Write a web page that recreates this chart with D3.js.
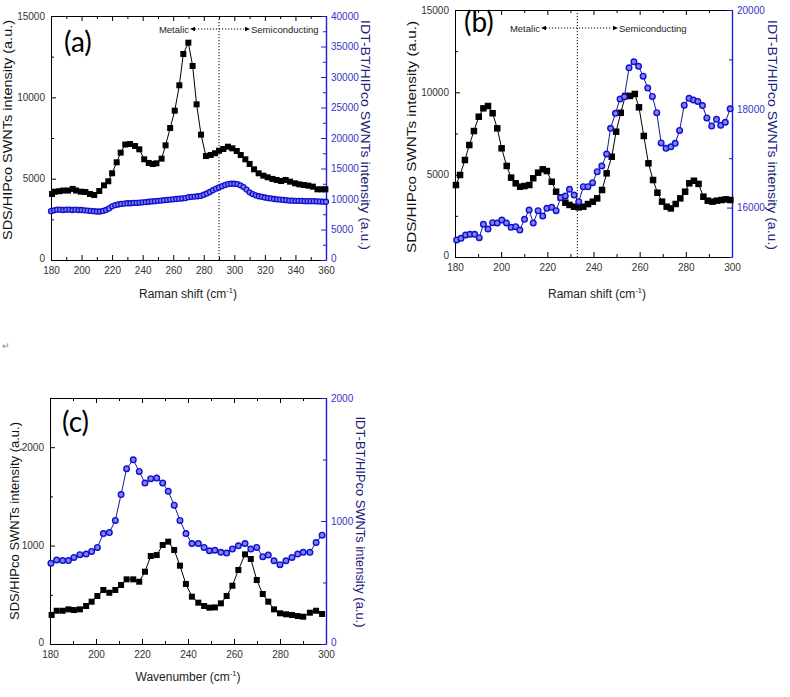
<!DOCTYPE html>
<html><head><meta charset="utf-8">
<script src="https://cdn.jsdelivr.net/npm/d3@7"></script>
<style>
body{margin:0;background:#fff;}
svg{display:block;font-family:"Liberation Sans",Arial,sans-serif;}
</style>
</head><body>
<svg id="chart" width="790" height="697"></svg>
<script>
// ---------- Panel (a) data ----------
const aBlackX = [180.7,182.7,185.5,188.1,191.2,194.2,196.4,199.5,202.5,205.5,208.3,211.6,214.7,217.5,220.0,223.0,225.6,228.6,231.7,235.0,237.8,241.0,244.0,246.6,249.0,252.4,255.0,258.0,261.0,264.0,266.6,269.9,272.7,275.3,278.2,281.4,284.5,287.3,290.0,292.8,295.8,298.7,301.6,304.2,307.2,310.0,312.9,315.9,319.0,321.8,324.9,327.7,330.6,333.6,336.5,339.8,342.6,345.6,348.5,351.4,354.4,357.2,359.6];
const aBlackY = [4060,4200,4230,4270,4270,4370,4270,4200,4180,4060,3996,4240,4590,4840,5330,6006,6600,7100,7130,7010,6805,6190,5965,5900,5945,6230,7050,8115,9180,10740,12665,13360,11930,9570,7705,6390,6455,6560,6720,6825,6965,6865,6700,6455,6190,5905,5575,5330,5185,5085,4985,4920,4855,4920,4815,4715,4650,4610,4570,4510,4345,4345,4345];
const aBlueX = [180,182,184,186,188,190,192,194,196,198,200,202,204,206,208,210,212,214,216,218,220,222,224,226,228,230,232,234,236,238,240,242,244,246,248,250,252,254,256,258,260,262,264,266,268,270,272,274,276,278,280,282,284,286,288,290,292,294,296,298,300,302,304,306,308,310,312,314,316,318,320,322,324,326,328,330,332,334,336,338,340,342,344,346,348,350,352,354,356,358,360];
const aBlueY = [8000,8150,8250,8250,8200,8250,8250,8200,8250,8200,8200,8150,8100,8050,8000,7950,7950,8050,8200,8450,8800,9000,9100,9200,9250,9300,9300,9350,9350,9400,9450,9500,9550,9600,9650,9700,9750,9800,9850,9900,9950,10000,10050,10100,10150,10300,10350,10400,10450,10500,10700,10900,11150,11450,11700,11900,12100,12300,12450,12500,12500,12450,12250,11950,11550,11100,10800,10600,10450,10350,10250,10150,10100,10000,9950,9900,9850,9800,9750,9720,9700,9700,9680,9650,9650,9650,9650,9600,9600,9560,9550];
const aXTicks = [180,200,220,240,260,280,300,320,340,360];
const aLeftTicks = [0,5000,10000,15000];
const aRightTicks = [0,5000,10000,15000,20000,25000,30000,35000,40000];
const aDivider = 290;

// ---------- Panel (b) data ----------
const bBlackX = [180.4,182.2,184.3,186.2,188.2,190.3,192.3,194.3,196.3,198.3,200.2,202.4,204.3,206.3,208.2,210.1,212.2,213.9,216,218,219.8,221.9,223.8,225.8,227.8,229.6,231.6,233.6,235.6,237.6,239.7,241.6,243.7,245.7,247.9,249.8,251.8,253.8,255.8,257.9,259.7,261.8,263.8,265.8,267.7,269.7,271.7,273.5,275.6,277.6,279.7,281.5,283.5,285.5,287.6,289.5,291.5,293.5,295.5,297.3,299.3];
const bBlackY = [4370,4980,5890,6800,7650,8520,9030,9170,8730,7815,6600,5530,4820,4475,4270,4310,4370,4780,5120,5325,5220,4570,3965,3625,3300,3160,3055,3015,3055,3215,3360,3560,4070,5080,6090,7610,8760,9780,9780,9900,9090,7350,5690,4675,3905,3360,3055,2950,3220,3560,3965,4475,4630,4440,3660,3420,3360,3420,3460,3500,3460];
const bBlueX = [180.7,182.6,184.6,186.5,188.5,190.5,192.3,194.3,196.3,198.3,200.3,202.3,204.3,206.3,208.1,210.1,212.1,213.9,216,218,219.8,221.9,223.8,225.8,227.8,229.6,231.6,233.6,235.6,237.6,239.6,241.6,243.6,245.7,247.4,249.5,251.5,253.4,255.4,257.5,259.5,261.5,263.5,265.5,267.4,269.3,271.4,273.5,275.4,277.3,279.3,281.4,283.3,285.2,287.2,289.1,291.2,293.3,295.1,297.1,299.2];
const bBlueY = [15344,15378,15445,15459,15459,15391,15662,15567,15695,15688,15749,15688,15601,15614,15546,15763,15951,15688,15937,15830,15986,16006,15937,16200,16235,16370,16255,16120,16423,16423,16504,16727,16842,17085,17605,17908,18198,18244,18830,18950,18860,18660,18420,18250,17921,17310,17200,17230,17301,17563,18073,18212,18178,18150,18065,17815,17651,17787,17665,17728,18000];
const bXTicks = [180,200,220,240,260,280,300];
const bLeftTicks = [0,5000,10000,15000];
const bRightTicks = [16000,18000,20000];
const bDivider = 233;

// ---------- Panel (c) data ----------
const cBlackX = [180.7,182.9,185.5,188,190.4,193,195.7,198.1,200.6,203.2,205.8,208.4,210.9,213.3,216.2,218.8,221.3,223.8,226.4,229,231.4,234,236.5,239.1,241.7,244.5,247,249.3,251.7,254.3,256.8,259.3,261.9,264.8,267.3,269.9,272.5,274.9,277.4,280,282.6,285.2,287.7,290.1,293,295.7,298.3];
const cBlackY = [295,338,338,352,345,352,386,430,488,549,521,549,600,657,657,633,735,894,904,1006,1040,955,796,610,481,420,386,369,372,413,488,592,752,911,864,650,508,430,352,312,302,295,284,277,318,338,305];
const cBlueX = [180.4,182.9,185.5,188,190.4,193,195.7,198.1,200.6,203.2,205.8,208.4,210.9,213.3,216.2,218.8,221.3,223.8,226.4,229,231.4,234,236.5,239.1,241.7,244.5,247,249.3,251.7,254.3,256.8,259.3,261.9,264.8,267.3,269.9,272.5,274.9,277.4,280,282.6,285.2,287.7,290.1,293,295.7,298.3];
const cBlueY = [656,683,678,678,704,726,731,753,785,898,906,1005,1215,1425,1497,1403,1309,1344,1349,1309,1242,1129,1005,898,817,817,785,758,762,745,739,772,798,817,772,785,710,723,677,645,677,704,731,745,745,825,885];
const cXTicks = [180,200,220,240,260,280,300];
const cLeftTicks = [0,1000,2000];
const cRightTicks = [0,1000,2000];

const leftTitle = "SDS/HIPco SWNTs intensity (a.u.)";
const rightTitle = "IDT-BT/HIPco SWNTs intensity (a.u.)";

const svg = d3.select("#chart");
const BLUE_AXIS = "#1c1cd0";
const BLUE_TEXT = "#3434c8";
const BLUE_TITLE = "#22227a";

function zip(xs, ys){ const n=Math.min(xs.length, ys.length); const r=[]; for(let i=0;i<n;i++) r.push([xs[i],ys[i]]); return r; }

function minorVals(ticks){
  const r=[]; for(let i=0;i<ticks.length-1;i++) r.push((ticks[i]+ticks[i+1])/2); return r;
}

function panel(o){
  const g = svg.append("g");
  const x = d3.scaleLinear().domain(o.xDomain).range([o.l, o.r]);
  const yl = d3.scaleLinear().domain(o.lDomain).range([o.b, o.t]);
  const yr = d3.scaleLinear().domain(o.rDomain).range([o.b, o.t]);

  function styleAxis(sel, color, textColor){
    sel.selectAll("path.domain").attr("stroke", color).attr("stroke-width", 1);
    sel.selectAll(".tick line").attr("stroke", color);
    sel.selectAll("text").attr("fill", textColor).attr("font-size", 10)
      .attr("font-family", '"Liberation Sans",Arial,sans-serif');
  }
  // bottom
  const bx = g.append("g").attr("transform", `translate(0,${o.b})`)
    .call(d3.axisBottom(x).tickValues(o.xTicks).tickSize(-5).tickSizeOuter(0).tickPadding(7).tickFormat(d3.format("d")));
  styleAxis(bx, "#000", "#333");
  g.append("g").attr("transform", `translate(0,${o.b})`)
    .call(d3.axisBottom(x).tickValues(o.xMinor).tickSize(-3).tickSizeOuter(0).tickFormat(""))
    .call(s=>{s.select(".domain").remove(); s.selectAll("line").attr("stroke","#000");});
  // top
  const tx = g.append("g").attr("transform", `translate(0,${o.t})`)
    .call(d3.axisTop(x).tickValues(o.xTicks).tickSize(-5).tickSizeOuter(0).tickFormat(""));
  styleAxis(tx, "#000", "#333");
  g.append("g").attr("transform", `translate(0,${o.t})`)
    .call(d3.axisTop(x).tickValues(o.xMinor).tickSize(-3).tickSizeOuter(0).tickFormat(""))
    .call(s=>{s.select(".domain").remove(); s.selectAll("line").attr("stroke","#000");});
  // left
  const lx = g.append("g").attr("transform", `translate(${o.l},0)`)
    .call(d3.axisLeft(yl).tickValues(o.lTicks).tickSize(-5).tickSizeOuter(0).tickPadding(6).tickFormat(d3.format("d")));
  styleAxis(lx, "#000", "#333");
  lx.selectAll(".tick text").filter(d=>d===o.lDomain[0]).attr("y", -1.5);
  g.append("g").attr("transform", `translate(${o.l},0)`)
    .call(d3.axisLeft(yl).tickValues(o.lMinor).tickSize(-3).tickSizeOuter(0).tickFormat(""))
    .call(s=>{s.select(".domain").remove(); s.selectAll("line").attr("stroke","#000");});
  // right
  const rx = g.append("g").attr("transform", `translate(${o.r},0)`)
    .call(d3.axisRight(yr).tickValues(o.rTicks).tickSize(-5).tickSizeOuter(0).tickPadding(5).tickFormat(d3.format("d")));
  styleAxis(rx, BLUE_AXIS, BLUE_TEXT);
  rx.select("path.domain").attr("stroke-width", 1.4);
  rx.selectAll(".tick text").filter(d=>d===o.rDomain[0]).attr("y", -1.5);
  g.append("g").attr("transform", `translate(${o.r},0)`)
    .call(d3.axisRight(yr).tickValues(o.rMinor).tickSize(-3).tickSizeOuter(0).tickFormat(""))
    .call(s=>{s.select(".domain").remove(); s.selectAll("line").attr("stroke",BLUE_AXIS);});

  // divider
  if (o.divider !== undefined){
    g.append("line").attr("x1", x(o.divider)).attr("x2", x(o.divider))
      .attr("y1", o.t).attr("y2", o.b).attr("stroke", "#000")
      .attr("stroke-width", 1).attr("stroke-dasharray", "1.2,1.8");
    const ay = o.annY;
    g.append("text").attr("x", o.metEnd).attr("y", ay+3.5).attr("text-anchor","end")
      .attr("font-size", 9.5).attr("fill","#222").text("Metalic");
    g.append("path").attr("d", `M${o.metEnd+1},${ay} l5,-2.2 l0,4.4 z`).attr("fill","#000");
    g.append("line").attr("x1", o.metEnd+6).attr("x2", o.semStart-7).attr("y1", ay).attr("y2", ay)
      .attr("stroke","#000").attr("stroke-dasharray","1.2,1.8");
    g.append("path").attr("d", `M${o.semStart-1},${ay} l-5,-2.2 l0,4.4 z`).attr("fill","#000");
    g.append("text").attr("x", o.semStart).attr("y", ay+3.5).attr("text-anchor","start")
      .attr("font-size", 9.5).attr("fill","#222").text("Semiconducting");
  }

  // series
  const blackLine = d3.line().x(d=>x(d[0])).y(d=>yl(d[1]));
  const blueLine = d3.line().x(d=>x(d[0])).y(d=>yr(d[1]));
  const bk = zip(o.blackX, o.blackY);
  const bl = zip(o.blueX, o.blueY);
  g.append("path").datum(bk).attr("d", blackLine).attr("fill","none").attr("stroke","#000").attr("stroke-width",1);
  g.append("g").selectAll("rect").data(bk).join("rect")
    .attr("x", d=>x(d[0])-o.sq/2).attr("y", d=>yl(d[1])-o.sq/2)
    .attr("width", o.sq).attr("height", o.sq).attr("fill","#000");
  g.append("path").datum(bl).attr("d", blueLine).attr("fill","none").attr("stroke","#1a1a90").attr("stroke-width",1);
  g.append("g").selectAll("circle").data(bl).join("circle")
    .attr("cx", d=>x(d[0])).attr("cy", d=>yr(d[1])).attr("r", o.cr)
    .attr("fill","#8282ee").attr("stroke","#1010d0").attr("stroke-width", o.cw);

  // titles
  g.append("text").attr("transform", `translate(${o.ltX},${o.ltY}) rotate(-90)`)
    .attr("text-anchor","middle").attr("font-size", 12.5).attr("fill","#111")
    .attr("textLength", o.ltLen).attr("lengthAdjust","spacingAndGlyphs").text(leftTitle);
  g.append("text").attr("transform", `translate(${o.rtX},${o.rtY}) rotate(90)`)
    .attr("text-anchor","middle").attr("font-size", 12.5).attr("fill",BLUE_TITLE)
    .attr("textLength", o.rtLen).attr("lengthAdjust","spacingAndGlyphs").text(rightTitle);
  const xt = g.append("text").attr("x", o.xtX).attr("y", o.xtY).attr("text-anchor","middle")
    .attr("font-size", 12).attr("fill","#222");
  xt.append("tspan").text(o.xTitle + " (cm");
  xt.append("tspan").attr("dy", -5).attr("font-size", 7.5).text("-1");
  xt.append("tspan").attr("dy", 5).text(")");

  // panel label
  g.append("text").attr("x", o.labX).attr("y", o.labY).attr("font-family","Lato, 'Open Sans', sans-serif")
    .attr("font-size", 28).attr("fill","#000").text(o.label);
}

panel({
  l:51, r:326, t:16, b:260,
  xDomain:[180,360], lDomain:[0,15000], rDomain:[0,40000],
  xTicks:aXTicks, xMinor:minorVals(aXTicks), lTicks:aLeftTicks, lMinor:minorVals(aLeftTicks),
  rTicks:aRightTicks, rMinor:minorVals(aRightTicks),
  blackX:aBlackX, blackY:aBlackY, blueX:aBlueX, blueY:aBlueY,
  sq:6, cr:2.5, cw:1.3,
  divider:aDivider, annY:29, metEnd:189, semStart:251,
  ltX:12, ltY:130, ltLen:220, rtX:361, rtY:135, rtLen:230,
  xTitle:"Raman shift", xtX:188, xtY:298,
  label:"(a)", labX:64, labY:52
});

panel({
  l:455, r:732, t:10, b:257,
  xDomain:[180,300], lDomain:[0,15000], rDomain:[15000,20000],
  xTicks:bXTicks, xMinor:minorVals(bXTicks), lTicks:bLeftTicks, lMinor:minorVals(bLeftTicks),
  rTicks:bRightTicks, rMinor:[15000,17000,19000],
  blackX:bBlackX, blackY:bBlackY, blueX:bBlueX, blueY:bBlueY,
  sq:6.5, cr:2.8, cw:1.4,
  divider:bDivider, annY:28, metEnd:540, semStart:619,
  ltX:416, ltY:137, ltLen:232, rtX:768, rtY:135, rtLen:230,
  xTitle:"Raman shift", xtX:597, xtY:298,
  label:"(b)", labX:464, labY:32
});

panel({
  l:50, r:326, t:398, b:644,
  xDomain:[180,300], lDomain:[0,2500], rDomain:[0,2000],
  xTicks:cXTicks, xMinor:minorVals(cXTicks), lTicks:cLeftTicks, lMinor:[500,1500,2500],
  rTicks:cRightTicks, rMinor:[500,1500],
  blackX:cBlackX, blackY:cBlackY, blueX:cBlueX, blueY:cBlueY,
  sq:6, cr:2.8, cw:1.4,
  ltX:19, ltY:521, ltLen:198, rtX:356, rtY:522, rtLen:211,
  xTitle:"Wavenumber", xtX:188, xtY:681,
  label:"(c)", labX:62, labY:432
});

svg.append("text").attr("x", 2).attr("y", 349).attr("font-size", 9).attr("fill","#888").text("\u21B5");
</script>
</body></html>
